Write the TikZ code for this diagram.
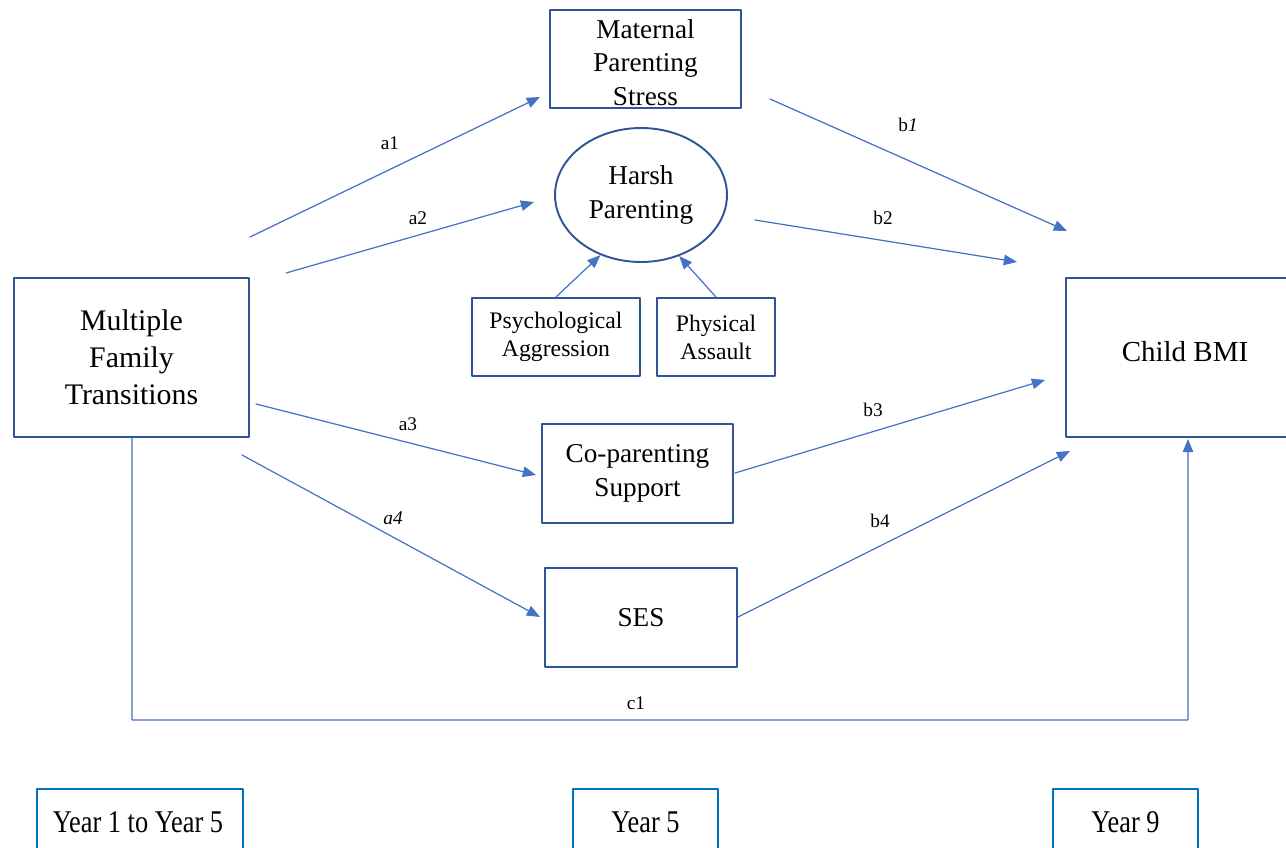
\documentclass[tikz,border=0pt]{standalone}
\usepackage{fontspec}
\setmainfont{Liberation Serif}
\usetikzlibrary{arrows.meta,shapes.geometric}
\definecolor{boxblue}{RGB}{47,85,151}
\definecolor{arrowblue}{RGB}{68,114,196}
\definecolor{yearblue}{RGB}{0,112,192}

\begin{document}
\begin{tikzpicture}[line cap=round,line join=round,x=0.02cm,y=-0.02cm,
    box/.style={draw=boxblue,line width=1.1pt,align=center,inner sep=0pt,
      font=\fontsize{15.5}{19}\selectfont},
    link/.style={draw=arrowblue,line width=0.7pt,-{Triangle[length=7.5pt,width=6pt]}},
    lbl/.style={font=\fontsize{11}{13}\selectfont},
    yearbox/.style={draw=yearblue,line width=1.1pt}]
    \useasboundingbox (0,0) rectangle (1286,848);

    \node[box,minimum width=4.7cm,minimum height=3.18cm,font=\fontsize{17}{21}\selectfont]
      (mft) at (131.5,357.5) {Multiple\\Family\\Transitions};
    \node[box,minimum width=3.82cm,minimum height=1.96cm] (mps) at (645.5,59)
      {\rule{0pt}{0.52cm}Maternal\\Parenting\\Stress};
    \node[box,ellipse,minimum width=3.44cm,minimum height=2.68cm] (harsh) at (641,195) {Harsh\\Parenting};
    \node[box,minimum width=3.36cm,minimum height=1.56cm,font=\fontsize{13.5}{16}\selectfont]
      (psych) at (556,337) {Psychological\\Aggression};
    \node[box,minimum width=2.36cm,minimum height=1.56cm,font=\fontsize{13.5}{16}\selectfont]
      (phys) at (716,337) {Physical\\Assault};
    \node[box,minimum width=3.82cm,minimum height=1.98cm] (coparent) at (637.5,473.5) {Co-parenting\\Support};
    \node[box,minimum width=3.84cm,minimum height=1.98cm] (ses) at (641,617.5) {SES};

    % child BMI box runs off the right edge
    \draw[draw=boxblue,line width=1.1pt] (1286,278) -| (1066,437) -- (1286,437);
    \node[font=\fontsize{16.5}{20}\selectfont] (bmi) at (1185,352) {Child BMI};

    % time points, cut off at the bottom
    \draw[yearbox] (37,848) |- (243,789) -- (243,848);
    \draw[yearbox] (573,848) |- (718,789) -- (718,848);
    \draw[yearbox] (1053,848) |- (1198,789) -- (1198,848);
    \node[font=\fontsize{15}{18}\selectfont] (y1) at (138,822) {\scalebox{1}[1.2]{Year 1 to Year 5}};
    \node[font=\fontsize{15}{18}\selectfont] (y5) at (645.5,822) {\scalebox{1}[1.2]{Year 5}};
    \node[font=\fontsize{15}{18}\selectfont] (y9) at (1125.5,822) {\scalebox{1}[1.2]{Year 9}};

    % free arrow ends
    \coordinate (a1s) at (250,237);  \coordinate (a1e) at (540,97);
    \coordinate (a2s) at (286,273);  \coordinate (a2e) at (534,202);
    \coordinate (a3s) at (256,404);  \coordinate (a3e) at (536,475);
    \coordinate (a4s) at (242,455);  \coordinate (a4e) at (540,617);
    \coordinate (b1s) at (770,99);   \coordinate (b1e) at (1067,231);
    \coordinate (b2s) at (755,220);  \coordinate (b2e) at (1017,262);
    \coordinate (b3s) at (735,473);  \coordinate (b3e) at (1045,380);
    \coordinate (b4s) at (738,617);  \coordinate (b4e) at (1070,451);
    \coordinate (c1e) at (1188,439);

    \draw[link] (a1s) -- (a1e);
    \draw[link] (a2s) -- (a2e);
    \draw[link] (a3s) -- (a3e);
    \draw[link] (a4s) -- (a4e);
    \draw[link] (b1s) -- (b1e);
    \draw[link] (b2s) -- (b2e);
    \draw[link] (b3s) -- (b3e);
    \draw[link] (b4s) -- (b4e);
    \draw[link] (psych.north) -- (harsh.-124);
    \draw[link] (phys.north) -- (harsh.-58);
    \draw[link] ([xshift=0.01cm]mft.south) -- (132,720) -| (c1e);

    \node[lbl] at (390,143) {a1};
    \node[lbl] at (418,218) {a2};
    \node[lbl] at (408,424) {a3};
    \node[lbl] at (393,518) {\textit{a4}};
    \node[lbl] at (908,125) {b\textit{1}};
    \node[lbl] at (883,218) {b2};
    \node[lbl] at (873,410) {b3};
    \node[lbl] at (880,521) {b4};
    \node[lbl] at (636,703) {c1};
  \end{tikzpicture}
\end{document}
